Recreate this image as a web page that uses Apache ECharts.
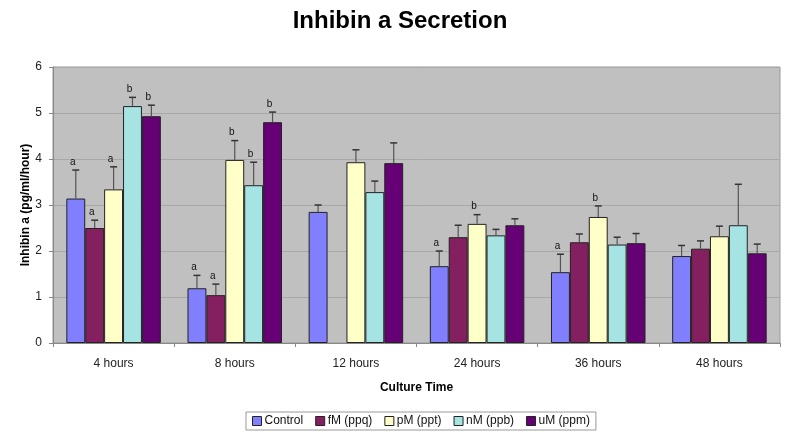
<!DOCTYPE html>
<html><head><meta charset="utf-8">
<script src="https://cdn.jsdelivr.net/npm/echarts@6/dist/echarts.min.js"></script>
<style>html,body{margin:0;padding:0;background:#fff}#c{width:800px;height:443px}</style>
</head><body><div id="c"></div>
<script>
var categories = ['4 hours','8 hours','12 hours','24 hours','36 hours','48 hours'];
var seriesNames = ['Control','fM (ppq)','pM (ppt)','nM (ppb)','uM (ppm)'];
var control = [3.14, 1.19, 2.85, 1.67, 1.54, 1.89];
var fM = [2.50, 1.04, null, 2.30, 2.19, 2.05];
var pM = [3.34, 3.98, 3.93, 2.59, 2.74, 2.32];
var nM = [5.15, 3.43, 3.28, 2.34, 2.14, 2.56];
var uM = [4.93, 4.80, 3.91, 2.56, 2.17, 1.95];
var controlErr = [3.76, 1.47, 3.00, 2.00, 1.93, 2.12];
var fMErr = [2.67, 1.28, null, 2.56, 2.37, 2.22];
var pMErr = [3.83, 4.40, 4.20, 2.79, 2.98, 2.54];
var nMErr = [5.34, 3.93, 3.52, 2.47, 2.30, 3.45];
var uMErr = [5.17, 5.02, 4.35, 2.70, 2.38, 2.15];
var controlSig = ['a','a','','a','a',''];
var fMSig = ['a','a','','','',''];
var pMSig = ['a','b','','b','b',''];
var nMSig = ['b','b','','','',''];
var uMSig = ['b','b','','','',''];
var yTicks = [0,1,2,3,4,5,6];

var values = [control, fM, pM, nM, uM];
var errs = [controlErr, fMErr, pMErr, nMErr, uMErr];
var sigs = [controlSig, fMSig, pMSig, nMSig, uMSig];
var colors = ['#8080ff','#841f60','#ffffc8','#a6e4e4','#650075'];
var gapRatio = 0.22;
var FONT = '"Liberation Sans", Arial, sans-serif';

var series = [];
values.forEach(function(v, i){
  series.push({
    name: seriesNames[i], type: 'bar', data: v,
    barGap: '0%', barCategoryGap: (gapRatio*100)+'%',
    itemStyle: {color: colors[i], borderColor: '#222', borderWidth: 1},
    emphasis: {disabled: true}, z: 2
  });
});
values.forEach(function(v, i){
  var data = [];
  v.forEach(function(val, j){
    if (val != null) data.push([j, val, errs[i][j], sigs[i][j]]);
  });
  series.push({
    type: 'custom', silent: true, z: 5,
    data: data,
    encode: {x: 0, y: [1, 2]},
    renderItem: function(params, api){
      var cat = api.value(0);
      var band = api.size([1, 0])[0];
      var bw = band * (1 - gapRatio) / 5;
      var off = -band*(1-gapRatio)/2 + (i + 0.5) * bw;
      var p0 = api.coord([cat, api.value(1)]);
      var p1 = api.coord([cat, api.value(2)]);
      var x = p0[0] + off;
      var children = [
        {type:'line', shape:{x1:x, y1:p0[1], x2:x, y2:p1[1]}, style:{stroke:'#555', lineWidth:1.2}},
        {type:'line', shape:{x1:x-3.5, y1:p1[1], x2:x+3.5, y2:p1[1]}, style:{stroke:'#333', lineWidth:1.5}}
      ];
      var s = api.value(3);
      if (s) {
        children.push({type:'text', style:{text: s, x: x-3, y: p1[1]-3, textAlign:'center', textVerticalAlign:'bottom', fill:'#111', font:'10px ' + FONT}});
      }
      return {type:'group', children: children};
    }
  });
});

var chart = echarts.init(document.getElementById('c'));
chart.setOption({
  animation: false,
  backgroundColor: '#fff',
  title: {text: 'Inhibin a Secretion', left: 'center', top: 4,
    textStyle: {fontFamily: FONT, fontWeight: 'bold', fontSize: 24, color: '#000'}},
  legend: {
    top: 412, left: 246, data: seriesNames, icon: 'rect',
    itemWidth: 9, itemHeight: 9, itemGap: 12,
    borderColor: '#999', borderWidth: 1, padding: [3, 6],
    textStyle: {fontFamily: FONT, fontSize: 12, color: '#111', padding: [0,0,0,-2]},
    itemStyle: {borderColor: '#222', borderWidth: 1}
  },
  grid: {left: 53, right: 20, top: 67, bottom: 100, show: true, backgroundColor: '#c0c0c0', borderColor: '#9a9a9a', borderWidth: 1},
  xAxis: {
    type: 'category', data: categories,
    name: 'Culture Time', nameLocation: 'middle', nameGap: 39,
    nameTextStyle: {fontFamily: FONT, fontWeight: 'bold', fontSize: 12, color: '#000'},
    axisLine: {lineStyle: {color: '#888'}},
    axisTick: {show: true, length: 4, lineStyle: {color: '#888'}},
    axisLabel: {fontFamily: FONT, fontSize: 12, color: '#222', margin: 15}
  },
  yAxis: {
    type: 'value', min: yTicks[0], max: yTicks[yTicks.length-1], interval: 1,
    name: 'Inhibin a (pg/ml/hour)', nameLocation: 'middle', nameGap: 21, nameRotate: 90,
    nameMoveOverlap: false,
    nameTextStyle: {fontFamily: FONT, fontWeight: 'bold', fontSize: 12, color: '#000'},
    axisLine: {show: true, lineStyle: {color: '#888'}},
    axisTick: {show: true, length: 4, lineStyle: {color: '#888'}},
    splitLine: {lineStyle: {color: '#a8a8a8', width: 1}},
    axisLabel: {fontFamily: FONT, fontSize: 12, color: '#222', margin: 11}
  },
  series: series
});
</script></body></html>
